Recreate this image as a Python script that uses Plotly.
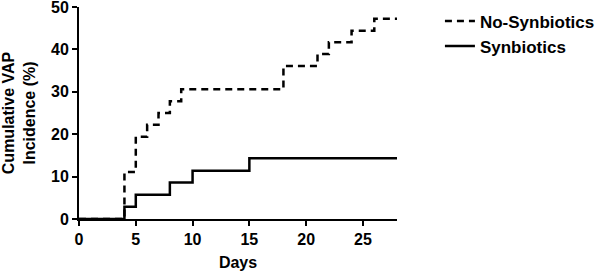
import plotly.graph_objects as go

# Data
no_syn_days = [0, 4, 5, 6, 7, 8, 9, 18, 21, 22, 24, 26, 28]
no_syn_vals = [0, 11.1, 19.4, 22.2, 25.0, 27.8, 30.6, 36.1, 38.9, 41.7, 44.4, 47.2, 47.2]
syn_days = [0, 4, 5, 8, 10, 15, 28]
syn_vals = [0, 2.9, 5.7, 8.6, 11.4, 14.3, 14.3]
x_ticks = [0, 5, 10, 15, 20, 25]
y_ticks = [0, 10, 20, 30, 40, 50]

FONT = "Liberation Sans, Arial, sans-serif"

fig = go.Figure()
fig.add_trace(go.Scatter(
    x=no_syn_days, y=no_syn_vals, mode="lines", name="No-Synbiotics",
    line=dict(shape="hv", color="black", width=2.5, dash="7px,5px"),
))
fig.add_trace(go.Scatter(
    x=syn_days, y=syn_vals, mode="lines", name="Synbiotics",
    line=dict(shape="hv", color="black", width=2.5),
))

axis_common = dict(
    showline=True, linecolor="black", linewidth=2,
    ticks="outside", ticklen=5, tickwidth=2, tickcolor="black",
    showgrid=False, zeroline=False, automargin=False,
    ticklabeloverflow="allow",
    tickfont=dict(family=FONT, size=16, color="black", weight="bold"),
)

fig.update_layout(
    width=596, height=271,
    margin=dict(l=79, r=199, t=7, b=52, autoexpand=False),
    paper_bgcolor="white", plot_bgcolor="white",
    xaxis=dict(range=[0, 28], tickvals=x_ticks,
               title=dict(text="Days", font=dict(family=FONT, size=16, color="black", weight="bold")),
               **axis_common),
    yaxis=dict(range=[0, 50], tickvals=y_ticks,
               title=dict(text="Cumulative VAP<br>Incidence (%)", font=dict(family=FONT, size=16, color="black", weight="bold")),
               **axis_common),
    legend=dict(x=1.135, y=1.017, xanchor="left", yanchor="top",
                font=dict(family=FONT, size=17, color="black", weight="bold"),
                bgcolor="rgba(0,0,0,0)", tracegroupgap=0),
    showlegend=True,
)

fig.write_html("out.html", config={"displayModeBar": False},
               post_script="document.body.style.margin='0';")
